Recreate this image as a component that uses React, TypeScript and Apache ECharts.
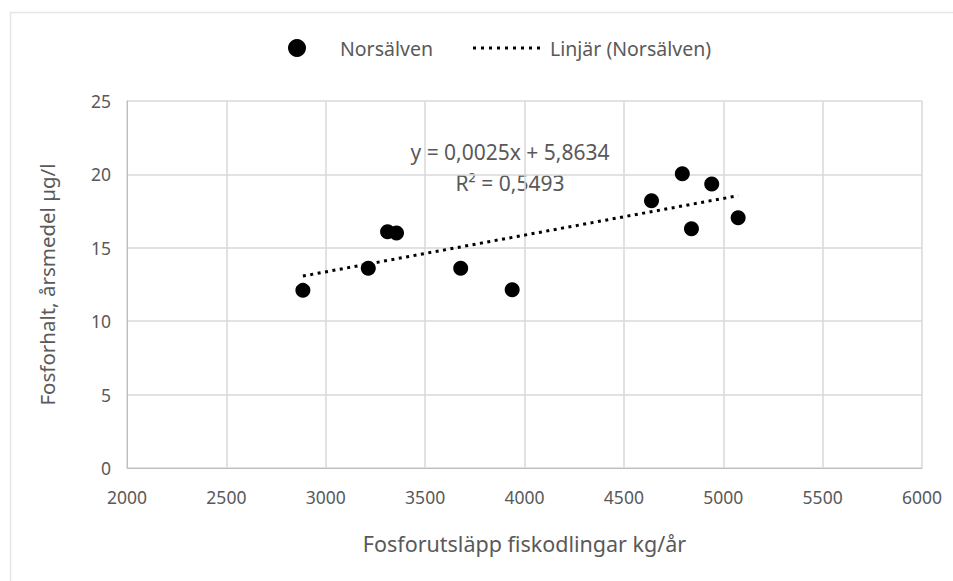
import React, { useEffect, useRef } from "react";
import * as echarts from "echarts";

const xValues = [2885, 3214, 3311, 3356, 3679, 3938, 4639, 4794, 4942, 4840, 5075];
const yValues = [12.1, 13.6, 16.1, 16.0, 13.6, 12.15, 18.2, 20.05, 19.35, 16.3, 17.05];
const trendSlope = 0.0025;
const trendIntercept = 5.8634;
const equationLabel = "y = 0,0025x + 5,8634";
const r2Label = "R² = 0,5493";
const seriesName = "Norsälven";
const trendName = "Linjär (Norsälven)";
const xTitle = "Fosforutsläpp fiskodlingar kg/år";
const yTitle = "Fosforhalt, årsmedel µg/l";

const FONT = "'Noto Sans', sans-serif";
const TEXT = "#595959";

// dotted legend icon: 9 small squares
const dottedIcon =
  "path://" +
  Array.from({ length: 9 }, (_, i) => `M${i * 8} 0h3v3h-3z`).join("");

export default function App() {
  const ref = useRef<HTMLDivElement>(null);
  useEffect(() => {
    if (!ref.current) return;
    const chart = echarts.init(ref.current, undefined, { renderer: "svg" });
    const points = xValues.map((x, i) => [x, yValues[i]]);
    const xmin = Math.min(...xValues);
    const xmax = Math.max(...xValues);
    const trend = [
      [xmin, trendSlope * xmin + trendIntercept],
      [xmax, trendSlope * xmax + trendIntercept],
    ];
    chart.setOption({
      animation: false,
      backgroundColor: "#ffffff",
      textStyle: { fontFamily: FONT },
      grid: { left: 127, right: 31, top: 101, bottom: 113, containLabel: false },
      legend: [
        {
          data: [seriesName],
          left: 288,
          top: 38,
          padding: 0,
          icon: "circle",
          itemWidth: 18,
          itemHeight: 18,
          textStyle: { color: TEXT, fontSize: 19.5, fontFamily: FONT, padding: [0, 0, 0, 29] },
          selectedMode: false,
        },
        {
          data: [{ name: trendName, icon: dottedIcon }],
          left: 473,
          top: 38,
          padding: 0,
          itemWidth: 67,
          itemHeight: 3,
          itemStyle: { color: "#000000" },
          textStyle: { color: TEXT, fontSize: 19.5, fontFamily: FONT, padding: [0, 0, 0, 5] },
          selectedMode: false,
        },
      ],
      xAxis: {
        type: "value",
        min: 2000,
        max: 6000,
        interval: 500,
        name: xTitle,
        nameLocation: "middle",
        nameGap: 64,
        nameTextStyle: { color: TEXT, fontSize: 21.5, fontFamily: FONT },
        axisLine: { show: true, lineStyle: { color: "#bfbfbf", width: 1 } },
        axisTick: { show: false },
        axisLabel: {
          color: TEXT,
          fontSize: 17.5,
          fontFamily: FONT,
          margin: 20,
          formatter: (v: number) => String(v),
        },
        splitLine: { show: true, lineStyle: { color: "#d9d9d9", width: 1.5 } },
      },
      yAxis: {
        type: "value",
        min: 0,
        max: 25,
        interval: 5,
        name: yTitle,
        nameLocation: "middle",
        nameGap: 70,
        nameTextStyle: { color: TEXT, fontSize: 20.5, fontFamily: FONT },
        axisLine: { show: true, lineStyle: { color: "#bfbfbf", width: 1 } },
        axisTick: { show: false },
        axisLabel: { color: TEXT, fontSize: 17.5, fontFamily: FONT, margin: 16 },
        splitLine: { show: true, lineStyle: { color: "#d9d9d9", width: 1.5 } },
      },
      series: [
        {
          name: seriesName,
          type: "scatter",
          data: points,
          symbol: "circle",
          symbolSize: 15,
          itemStyle: { color: "#000000", opacity: 1 },
        },
        {
          name: trendName,
          type: "line",
          data: trend,
          symbol: "none",
          lineStyle: { color: "#000000", width: 3, type: [3, 4.5] },
          itemStyle: { color: "#000000" },
        },
      ],
      graphic: [
        {
          type: "rect",
          left: 8,
          top: 10,
          shape: { width: 980, height: 620 },
          style: { fill: "none", stroke: "#e6e6e6", lineWidth: 1.5 },
          silent: true,
          z: -1,
        },
        {
          type: "text",
          x: 510,
          y: 152,
          style: {
            text: equationLabel,
            fill: TEXT,
            fontSize: 21,
            fontFamily: FONT,
            align: "center",
            verticalAlign: "middle",
          },
        },
        {
          type: "text",
          x: 510,
          y: 183,
          style: {
            text: r2Label,
            fill: TEXT,
            fontSize: 21,
            fontFamily: FONT,
            align: "center",
            verticalAlign: "middle",
          },
        },
      ],
    });
    return () => chart.dispose();
  }, []);
  return <div ref={ref} style={{ width: 953, height: 581, position: "absolute", left: 0, top: 0 }} />;
}
